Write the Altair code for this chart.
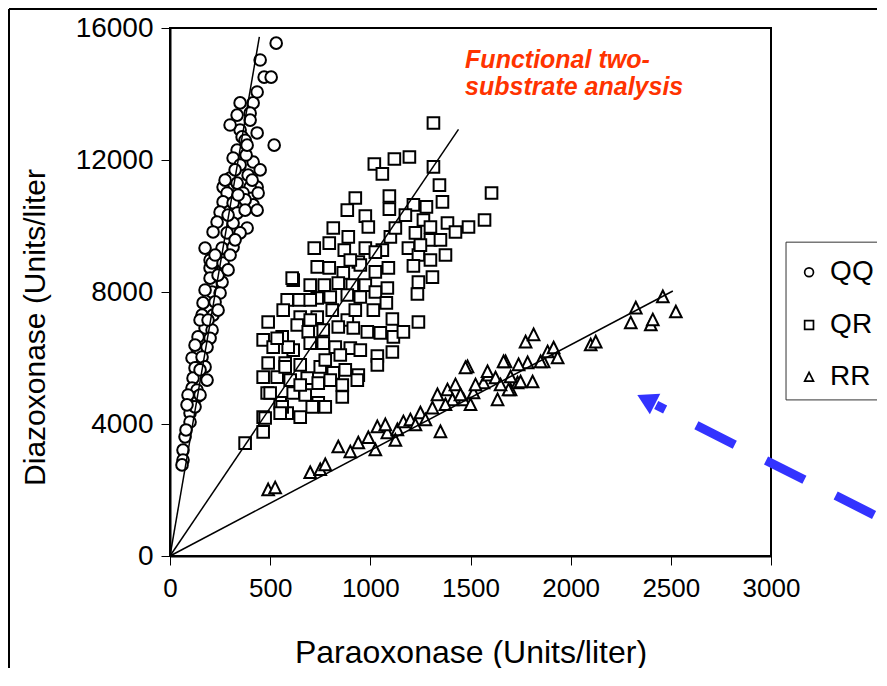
import altair as alt
import pandas as pd

# ---- data ----
genotypes = ["QQ", "QR", "RR"]

qq_points = [
    (530, 15540), (450, 15030), (470, 14510), (505, 14510), (435, 14060), (350, 13730), (415, 13730),
    (335, 13360), (400, 13420), (400, 13210), (350, 12910), (435, 12820), (360, 12700), (375, 12600),
    (520, 12450), (335, 12300), (315, 12060), (415, 11940), (350, 11850), (300, 11450), (390, 11540),
    (265, 11180), (335, 11300), (435, 11180), (400, 11180), (285, 11000), (365, 11000), (440, 11000),
    (265, 10730), (315, 10700), (415, 10640), (250, 10420), (335, 10390), (435, 10480), (235, 10120),
    (315, 10090), (385, 9940), (215, 9820), (285, 9790), (350, 9790), (175, 9330), (260, 9330),
    (315, 9360), (200, 8970), (260, 8970), (200, 8730), (265, 8730), (210, 8880), (265, 8880),
    (200, 8420), (260, 8300), (210, 8000), (250, 7970), (165, 7670), (225, 7700), (160, 7300),
    (215, 7300), (175, 6910), (210, 6850), (140, 6640), (200, 6600), (135, 6300), (185, 6330),
    (110, 6000), (160, 6030), (125, 5700), (175, 5730), (185, 5330), (115, 5390), (110, 5090),
    (135, 5030), (110, 4790), (135, 4820), (100, 4330), (125, 4520), (100, 4060), (75, 3610),
    (65, 3210), (65, 2910), (60, 2760), (290, 10330), (375, 10790), (325, 9580), (225, 9120),
    (300, 9120), (240, 8510), (290, 8670), (175, 8060), (240, 7450), (150, 7150), (190, 7150),
    (125, 6390), (150, 5640), (90, 4880), (150, 4880), (85, 4580), (80, 3820), (380, 12150),
    (300, 13060), (385, 12450), (325, 11700), (450, 11700), (275, 11390), (410, 11390),
    (375, 10480), (340, 10940),
]

qr_points = [
    (1315, 13120), (1020, 11880), (1060, 11580), (1120, 12030), (1195, 12090), (1315, 11790),
    (1345, 11240), (1605, 11000), (925, 10850), (1095, 10910), (1095, 10510), (885, 10480),
    (975, 10300), (990, 9970), (1215, 10640), (1280, 10580), (1360, 10730), (1385, 10090),
    (1490, 9970), (1570, 10180), (1265, 10180), (1300, 9970), (815, 9940), (890, 9670),
    (1100, 9670), (1225, 9790), (1300, 9580), (720, 9330), (795, 9480), (870, 9270), (975, 9330),
    (1060, 9270), (1190, 9330), (1240, 9120), (1300, 8970), (1375, 9120), (735, 8760), (795, 8730),
    (865, 8580), (940, 8910), (1025, 8610), (1090, 8730), (1215, 8790), (1310, 8450), (615, 8360),
    (700, 8210), (770, 8210), (840, 8270), (910, 8210), (975, 8210), (1085, 8120), (1240, 8300),
    (1235, 7940), (585, 7760), (645, 7760), (735, 7820), (800, 7850), (885, 7910), (950, 7850),
    (1025, 8000), (1080, 7670), (490, 7090), (565, 7450), (650, 7240), (735, 7240), (810, 7450),
    (885, 7150), (1015, 7450), (1110, 7180), (1240, 7090), (465, 6550), (560, 6640), (635, 7000),
    (690, 6790), (765, 6850), (840, 6940), (915, 6910), (985, 6790), (1050, 6760), (1115, 6640),
    (1165, 6790), (515, 6330), (615, 6240), (700, 6450), (765, 6450), (825, 6330), (900, 6300),
    (950, 6240), (1035, 6060), (1110, 6180), (490, 5850), (575, 5850), (650, 5790), (750, 5730),
    (815, 5550), (875, 5640), (940, 5480), (1035, 5790), (465, 5420), (535, 5420), (600, 5330),
    (685, 5390), (740, 5240), (800, 5330), (860, 5180), (935, 5330), (485, 4940), (550, 4640),
    (615, 4940), (675, 4880), (740, 4640), (775, 4520), (860, 4820), (465, 4210), (585, 4330),
    (650, 4210), (710, 4520), (465, 3760), (375, 3420), (610, 8420), (500, 4940), (560, 4520),
    (475, 4180), (550, 4330), (590, 6330), (535, 6600), (575, 5730), (700, 7150), (925, 7450),
    (850, 6090), (775, 5940), (650, 5180), (700, 7760), (950, 8820), (1025, 9210), (900, 8970),
    (1125, 9940), (1175, 10330), (1250, 9420), (1350, 9580), (1425, 9820),
]

rr_points = [
    (490, 2000), (525, 2060), (700, 2520), (750, 2610), (775, 2760), (840, 3300), (900, 3150),
    (940, 3420), (1025, 3210), (990, 3580), (1035, 3910), (1085, 3730), (1135, 3820), (1165, 4060),
    (1200, 4120), (1250, 4330), (1310, 4480), (1350, 3760), (1335, 4880), (1385, 5030), (1425, 5180),
    (1485, 5730), (1410, 4730), (1465, 4730), (1515, 4940), (1565, 5240), (1590, 5480), (1635, 4730),
    (1675, 5880), (1700, 5030), (1735, 5240), (1785, 5850), (1810, 5270), (1865, 5880), (1665, 5880),
    (1740, 5790), (1700, 5420), (1750, 5270), (1690, 5030), (1850, 5880), (1885, 6180), (1915, 6300),
    (1935, 6000), (1775, 6480), (1815, 6700), (2100, 6390), (2125, 6480), (2300, 7060), (2400, 7000),
    (2410, 7150), (2325, 7510), (2525, 7390), (2460, 7850), (1475, 5700), (1585, 5580), (1125, 3500),
    (1225, 3970), (1275, 4120), (1375, 4580), (1450, 4880), (1525, 5180), (1625, 5390), (1650, 5180),
    (1500, 4580), (1075, 3970),
]

fit_group = ["QQ", "QQ", "QR", "QR", "RR", "RR"]
fit_x = [0, 446, 0, 1440, 0, 2510]
fit_y = [0, 15730, 0, 12930, 0, 8030]

note_lines = ["Functional two-", "substrate analysis"]
note_x = [1473, 1473]
note_y = [14790, 13970]

arrow_from_x, arrow_from_y = [2427], [4575]
arrow_to_x, arrow_to_y = [3535], [1182]
arrow_head_x, arrow_head_y = [2377], [4742]

# key box placed to the right of the plot, in the same data units
key_box_x, key_box_x2 = [3075], [3600]
key_box_y, key_box_y2 = [9510], [4730]
key_symbol_x = [3190, 3190, 3190]
key_label_x = [3295, 3295, 3295]
key_row_y = [8600, 7000, 5420]

x_ticks = [0, 500, 1000, 1500, 2000, 2500, 3000]
y_ticks = [0, 4000, 8000, 12000, 16000]

# ---- tables ----
rows = []
for g, pts in zip(genotypes, [qq_points, qr_points, rr_points]):
    for px, py in pts:
        rows.append({"x": px, "y": py, "genotype": g})
df_pts = pd.DataFrame(rows)
df_fit = pd.DataFrame({"genotype": fit_group, "x": fit_x, "y": fit_y})
df_note = pd.DataFrame({"x": note_x, "y": note_y, "t": note_lines})
df_arrow = pd.DataFrame({"x": arrow_from_x, "y": arrow_from_y, "x2": arrow_to_x, "y2": arrow_to_y})
df_head = pd.DataFrame({"x": arrow_head_x, "y": arrow_head_y})
df_keybox = pd.DataFrame({"x": key_box_x, "x2": key_box_x2, "y": key_box_y, "y2": key_box_y2})
df_key = pd.DataFrame({"genotype": genotypes, "x": key_symbol_x, "lx": key_label_x, "y": key_row_y})
df_one = pd.DataFrame({"k": [0]})

FONT = "Liberation Sans"
TRI = "M0,-1.1L1,0.9L-1,0.9Z"

xaxis = alt.Axis(values=x_ticks, format="d", grid=False, labelFlush=False, labelOverlap=False,
                 labelFont=FONT, labelFontSize=26, labelColor="black", labelPadding=10,
                 tickColor="black", tickSize=9, tickWidth=1, domainColor="black", domainWidth=2,
                 titleFont=FONT, titleFontSize=32, titleFontWeight="normal", titleColor="black",
                 titleY=96, titleBaseline="middle")
yaxis = alt.Axis(values=y_ticks, format="d", grid=False, labelFlush=False, labelOverlap=False,
                 labelFont=FONT, labelFontSize=28, labelColor="black", labelPadding=8,
                 tickColor="black", tickSize=9, tickWidth=1, domainColor="black", domainWidth=2,
                 titleFont=FONT, titleFontSize=30, titleFontWeight="normal", titleColor="black",
                 titleAngle=270, titleX=-135, titleY=299, titleAlign="center", titleBaseline="middle")

X = alt.X("x:Q", scale=alt.Scale(domain=[0, 3000], nice=False), axis=xaxis,
          title="Paraoxonase (Units/liter)")
Y = alt.Y("y:Q", scale=alt.Scale(domain=[0, 16000], nice=False), axis=yaxis,
          title="Diazoxonase (Units/liter")
shape_scale = alt.Scale(domain=genotypes, range=["circle", "square", TRI])

frame_left = alt.Chart(df_one).mark_rule(color="black", strokeWidth=2).encode(
    x=alt.value(-161), y=alt.value(-19), y2=alt.value(700))
frame_top = alt.Chart(df_one).mark_rule(color="black", strokeWidth=2).encode(
    x=alt.value(-161), x2=alt.value(800), y=alt.value(-19))

points = alt.Chart(df_pts).mark_point(filled=True, fill="white", stroke="black",
                                      strokeWidth=2, size=135, opacity=1).encode(
    x=X, y=Y,
    shape=alt.Shape("genotype:N", scale=shape_scale, legend=None),
)

fits = alt.Chart(df_fit).mark_line(color="black", strokeWidth=1.5).encode(
    x=X, y=Y, detail="genotype:N")

note = alt.Chart(df_note).mark_text(align="left", baseline="alphabetic", font=FONT, fontSize=25,
                                    fontStyle="italic", fontWeight="bold", color="#ff3300").encode(
    x=X, y=Y, text="t:N")

arrow = alt.Chart(df_arrow).mark_rule(color="#3333ff", strokeWidth=9, strokeDash=[43, 35],
                                      strokeDashOffset=33, strokeCap="butt").encode(
    x=X, y=Y, x2="x2:Q", y2="y2:Q")

head = alt.Chart(df_head).mark_point(shape="triangle-up", filled=True, color="#3333ff", size=529,
                                     angle=297, opacity=1).encode(x=X, y=Y)

key_box = alt.Chart(df_keybox).mark_rect(fill="white", stroke="#333333", strokeWidth=1).encode(
    x=X, x2="x2:Q", y=Y, y2="y2:Q")
key_symbols = alt.Chart(df_key).mark_point(filled=False, color="black", strokeWidth=1.7,
                                           size=78, opacity=1).encode(
    x=X, y=Y, shape=alt.Shape("genotype:N", scale=shape_scale, legend=None))
key_labels = alt.Chart(df_key).mark_text(align="left", baseline="middle", font=FONT,
                                         fontSize=28, color="black").encode(
    x=alt.X("lx:Q", scale=alt.Scale(domain=[0, 3000], nice=False), axis=xaxis,
            title="Paraoxonase (Units/liter)"),
    y=Y, text="genotype:N")

chart = alt.layer(frame_left, frame_top, points, fits, note, arrow, head,
                  key_box, key_symbols, key_labels).properties(
    width=601, height=528,
    autosize=alt.AutoSizeParams(type="none"),
    padding={"left": 162, "top": 20, "right": 106, "bottom": 112},
).configure_view(stroke="black", strokeWidth=2)

chart.save("out.html", embed_options={"renderer": "svg", "actions": False})
